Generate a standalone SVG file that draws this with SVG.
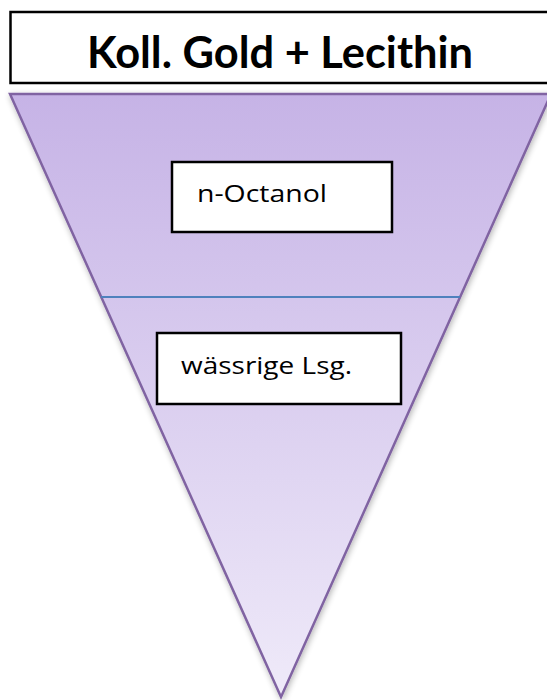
<svg xmlns="http://www.w3.org/2000/svg" width="547" height="700" viewBox="0 0 547 700">
<style>
.box{fill:#ffffff;stroke:#000000;stroke-width:2.5}
.t{font-family:"Open Sans","Liberation Sans",sans-serif;fill:#000000}
.h{font-family:Lato,"Open Sans",sans-serif;fill:#000000}
</style>
<defs>
<linearGradient id="g" x1="0" y1="94" x2="0" y2="697" gradientUnits="userSpaceOnUse">
<stop offset="0" stop-color="#C6B3E6"/>
<stop offset="1" stop-color="#EFEAF9"/>
</linearGradient>
<filter id="sh" x="-10%" y="-10%" width="120%" height="120%">
<feGaussianBlur in="SourceAlpha" stdDeviation="3"/>
<feOffset dx="1" dy="2"/>
<feComponentTransfer><feFuncA type="linear" slope="0.3"/></feComponentTransfer>
<feMerge><feMergeNode/><feMergeNode in="SourceGraphic"/></feMerge>
</filter>
</defs>
<rect width="547" height="700" fill="#ffffff"/>
<g id="funnel">
<polygon points="10,94 551,94 281,697" fill="url(#g)" stroke="#8064A2" stroke-width="2.5" stroke-linejoin="miter" filter="url(#sh)"/>
</g>
<g id="connectors">
<line x1="101" y1="297" x2="460" y2="297" stroke="#4F81BD" stroke-width="2"/>
</g>
<g id="title">
<rect class="box" x="10.5" y="12" width="545" height="71" stroke-width="3"/>
<text class="h" x="87" y="68" font-size="44" font-weight="700" textLength="386" lengthAdjust="spacingAndGlyphs">Koll. Gold + Lecithin</text>
</g>
<g id="octanol">
<rect class="box" x="172" y="162" width="220" height="70"/>
<text class="t" x="197" y="202" font-size="23" textLength="130" lengthAdjust="spacingAndGlyphs">n-Octanol</text>
</g>
<g id="waessrig">
<rect class="box" x="157" y="333" width="244" height="71"/>
<text class="t" x="181" y="374" font-size="24" textLength="171" lengthAdjust="spacingAndGlyphs">wässrige Lsg.</text>
</g>
</svg>
